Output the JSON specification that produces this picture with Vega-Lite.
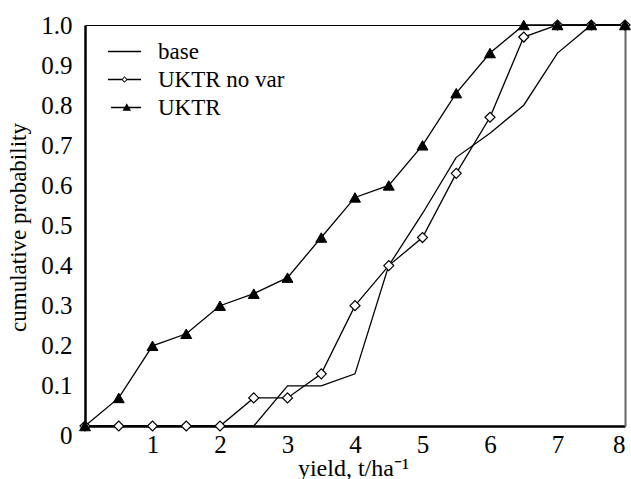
{
  "$schema": "https://vega.github.io/schema/vega-lite/v6.json",
  "width": 540,
  "height": 401,
  "autosize": {"type": "none"},
  "padding": {"left": 85, "top": 25, "right": 6, "bottom": 53},
  "background": "white",
  "config": {
    "font": "Liberation Serif",
    "view": {"stroke": null},
    "axis": {"grid": false, "labelFont": "Liberation Serif", "titleFont": "Liberation Serif", "labelColor": "black", "titleColor": "black", "titleFontWeight": "normal", "labelFontSize": 25, "titleFontSize": 23, "ticks": false, "domainColor": "black", "domainWidth": 2.5},
    "legend": {"symbolOpacity": 1}
  },
  "data": {"values": [
    {"series": "base", "x": 0, "y": 0}, {"series": "base", "x": 0.5, "y": 0}, {"series": "base", "x": 1, "y": 0}, {"series": "base", "x": 1.5, "y": 0}, {"series": "base", "x": 2, "y": 0}, {"series": "base", "x": 2.5, "y": 0}, {"series": "base", "x": 3, "y": 0.1}, {"series": "base", "x": 3.5, "y": 0.1}, {"series": "base", "x": 4, "y": 0.13}, {"series": "base", "x": 4.5, "y": 0.4}, {"series": "base", "x": 5, "y": 0.53}, {"series": "base", "x": 5.5, "y": 0.67}, {"series": "base", "x": 6, "y": 0.73}, {"series": "base", "x": 6.5, "y": 0.8}, {"series": "base", "x": 7, "y": 0.93}, {"series": "base", "x": 7.5, "y": 1.0}, {"series": "base", "x": 8, "y": 1.0},
    {"series": "UKTR no var", "x": 0, "y": 0}, {"series": "UKTR no var", "x": 0.5, "y": 0}, {"series": "UKTR no var", "x": 1, "y": 0}, {"series": "UKTR no var", "x": 1.5, "y": 0}, {"series": "UKTR no var", "x": 2, "y": 0}, {"series": "UKTR no var", "x": 2.5, "y": 0.07}, {"series": "UKTR no var", "x": 3, "y": 0.07}, {"series": "UKTR no var", "x": 3.5, "y": 0.13}, {"series": "UKTR no var", "x": 4, "y": 0.3}, {"series": "UKTR no var", "x": 4.5, "y": 0.4}, {"series": "UKTR no var", "x": 5, "y": 0.47}, {"series": "UKTR no var", "x": 5.5, "y": 0.63}, {"series": "UKTR no var", "x": 6, "y": 0.77}, {"series": "UKTR no var", "x": 6.5, "y": 0.97}, {"series": "UKTR no var", "x": 7, "y": 1.0}, {"series": "UKTR no var", "x": 7.5, "y": 1.0}, {"series": "UKTR no var", "x": 8, "y": 1.0},
    {"series": "UKTR", "x": 0, "y": 0}, {"series": "UKTR", "x": 0.5, "y": 0.07}, {"series": "UKTR", "x": 1, "y": 0.2}, {"series": "UKTR", "x": 1.5, "y": 0.23}, {"series": "UKTR", "x": 2, "y": 0.3}, {"series": "UKTR", "x": 2.5, "y": 0.33}, {"series": "UKTR", "x": 3, "y": 0.37}, {"series": "UKTR", "x": 3.5, "y": 0.47}, {"series": "UKTR", "x": 4, "y": 0.57}, {"series": "UKTR", "x": 4.5, "y": 0.6}, {"series": "UKTR", "x": 5, "y": 0.7}, {"series": "UKTR", "x": 5.5, "y": 0.83}, {"series": "UKTR", "x": 6, "y": 0.93}, {"series": "UKTR", "x": 6.5, "y": 1.0}, {"series": "UKTR", "x": 7, "y": 1.0}, {"series": "UKTR", "x": 7.5, "y": 1.0}, {"series": "UKTR", "x": 8, "y": 1.0}
  ]},
  "layer": [
    {
      "mark": {"type": "line", "color": "black", "strokeWidth": 1.3},
      "encoding": {
        "x": {"field": "x", "type": "quantitative", "scale": {"domain": [0, 8], "nice": false, "zero": false}, "axis": {"orient": "top", "labels": false, "title": null, "domainWidth": 1.2, "domainColor": "black"}},
        "y": {"field": "y", "type": "quantitative", "scale": {"domain": [0, 1], "nice": false}, "axis": {"orient": "right", "labels": false, "title": null, "domainWidth": 2, "domainColor": "#666"}},
        "detail": {"field": "series"}
      }
    },
    {
      "transform": [{"filter": "datum.series === 'UKTR no var'"}],
      "mark": {"type": "point", "shape": "diamond", "filled": false, "fill": "white", "opacity": 1, "stroke": "black", "strokeWidth": 1.2, "size": 100},
      "encoding": {
        "x": {"field": "x", "type": "quantitative", "axis": {"orient": "bottom", "values": [1, 2, 3, 4, 5, 6, 7, 8], "labelPadding": 6, "title": "yield, t/ha⁻¹", "titleFontSize": 24, "titleY": 49, "titleBaseline": "alphabetic", "titleX": 268}},
        "y": {"field": "y", "type": "quantitative", "axis": {"orient": "left", "values": [0, 0.1, 0.2, 0.3, 0.4, 0.5, 0.6, 0.7, 0.8, 0.9, 1.0], "labelExpr": "datum.value === 0 ? '0' : format(datum.value, '.1f')", "labelPadding": 13, "labelOffset": {"condition": {"test": "datum.value === 0", "value": 9}, "value": 0}, "title": "cumulative probability", "titleX": -67, "titleY": 202, "titleBaseline": "middle", "titleAlign": "center"}}
      }
    },
    {
      "transform": [{"filter": "datum.series === 'UKTR'"}],
      "mark": {"type": "point", "shape": "triangle-up", "filled": true, "fill": "black", "opacity": 1, "stroke": "black", "strokeWidth": 1, "size": 120},
      "encoding": {
        "x": {"field": "x", "type": "quantitative", "axis": null},
        "y": {"field": "y", "type": "quantitative", "axis": null}
      }
    },
    {
      "transform": [{"filter": "datum.x === 8"}],
      "mark": {"type": "point", "filled": true, "color": "black", "opacity": 0},
      "encoding": {
        "x": {"field": "x", "type": "quantitative", "axis": null},
        "y": {"field": "y", "type": "quantitative", "axis": null},
        "shape": {"field": "series", "type": "nominal",
          "scale": {"domain": ["base", "UKTR no var", "UKTR"], "range": [
            "M-3.3,-0.13H3.3V0.13H-3.3Z",
            "M-3.3,-0.13H-0.5V0.13H-3.3ZM0.5,-0.13H3.3V0.13H0.5ZM0,-0.66L0.64,0L0,0.66L-0.64,0ZM0,-0.4L-0.38,0L0,0.4L0.38,0Z",
            "M-2.7,-0.13H3.3V0.13H-2.7ZM0.45,-0.85L1.3,0.65L-0.4,0.65Z"]},
          "legend": {"title": null, "orient": "none", "legendX": 28, "legendY": 15, "symbolSize": 100, "labelFontSize": 23, "labelFont": "Liberation Serif", "labelColor": "black", "labelOffset": 22, "rowPadding": 4, "padding": 0}}
      }
    }
  ]
}
